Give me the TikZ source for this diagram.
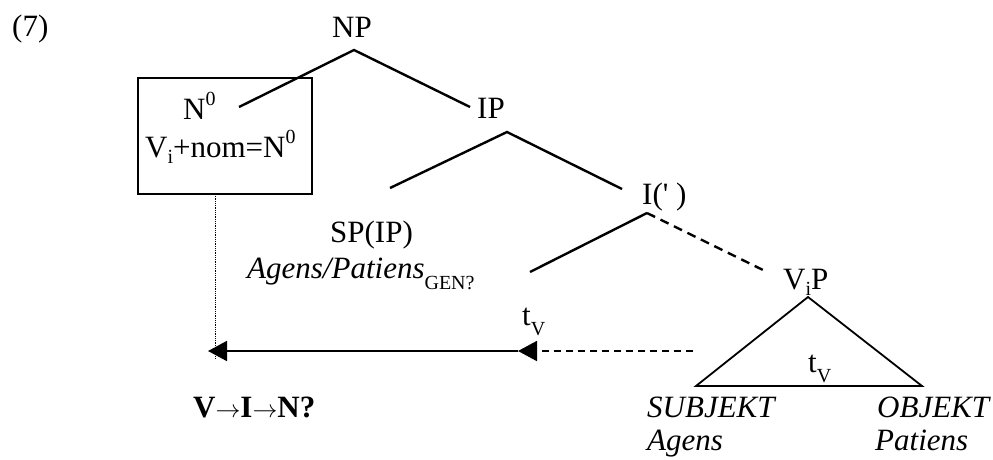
\documentclass[tikz,border=0pt]{standalone}
\usepackage{fontspec}
\setmainfont{Liberation Serif}[Ligatures=TeXOff]
\usetikzlibrary{arrows.meta}
\newcommand{\lsub}[2][-8pt]{\raisebox{#1}{\fontsize{20}{20}\selectfont #2}}
\newcommand{\lsup}[1]{\raisebox{14pt}{\fontsize{20}{20}\selectfont #1}}
\newcommand{\rarr}{\ensuremath{\mathord{\rightarrow}}}
\begin{document}
\begin{tikzpicture}[x=1pt,y=-1pt,
  lbl/.style={inner sep=0pt,anchor=base west,font=\fontsize{31}{37}\selectfont},
  branch/.style={line width=2.4pt},
  thinline/.style={line width=1.8pt},
  tip/.style={-{Triangle[length=19pt,width=20pt]}}]
\useasboundingbox (0,0) rectangle (993,459);
% labels
\node[lbl] (ex) at (12,36) {(7)};
\node[lbl] (np) at (332,37) {NP};
\node[lbl] (ip) at (477,118) {IP};
\node[lbl] (n0) at (183,119) {N\lsup{0}};
\node[lbl] (vnom) at (145,157) {V\lsub[-6pt]{i}+nom=N\lsup{0}};
\node[lbl] (sp) at (330,242) {SP(IP)};
\node[lbl] (agpat) at (247,278) {\itshape Agens/Patiens\upshape\lsub[-11pt]{GEN?}};
\node[lbl] (ibar) at (642,204) {I(' )};
\node[lbl] (vip) at (783,289) {V\lsub[-6pt]{i}P};
\node[lbl] (tv1) at (808,372) {t\lsub[-10pt]{V}};
\node[lbl] (tv2) at (522,325) {t\lsub[-10pt]{V}};
\node[lbl] (subj) at (647,417) {\itshape SUBJEKT};
\node[lbl] (ag) at (647,450) {\itshape Agens};
\node[lbl] (obj) at (877,417) {\itshape OBJEKT};
\node[lbl] (pat) at (875,450) {\itshape Patiens};
\node[lbl] (vin) at (193,417) {\bfseries V\rarr I\rarr N?};
% box
\draw[line width=2.6pt] (138,78) rectangle (312,194);
% coordinates
\coordinate (npT) at (354,50);
\coordinate (npL) at (239,107);
\coordinate (npR) at (470,107);
\coordinate (ipT) at (507,132);
\coordinate (ipL) at (390,188);
\coordinate (ipR) at (622,189);
\coordinate (ibT) at (647,213);
\coordinate (ibL) at (530,272);
\coordinate (ibR) at (763,270);
\coordinate (triT) at (808,297);
\coordinate (triL) at (696,386);
\coordinate (triR) at (922,386);
\coordinate (boxB) at (215,194);
\coordinate (dotE) at (215,358);
\coordinate (a1) at (208,351);
\coordinate (a2) at (518,351);
\coordinate (dashS) at (693,351);
% tree
\draw[branch] (npL) -- (npT) -- (npR);
\draw[branch] (ipL) -- (ipT) -- (ipR);
\draw[branch] (ibL) -- (ibT);
\draw[branch,dash pattern=on 9pt off 6pt] (ibT) -- (ibR);
\draw[thinline,line join=miter] (triL) -- (triT) -- (triR) -- cycle;
% movement
\draw[densely dotted,line width=0.8pt] (boxB) -- (dotE);
\draw[thinline,tip] (a2) -- (a1);
\draw[thinline,dash pattern=on 7pt off 5pt] (dashS) -- ([xshift=10pt]a2);
\draw[thinline,tip] ([xshift=10pt]a2) -- (a2);
\end{tikzpicture}
\end{document}
